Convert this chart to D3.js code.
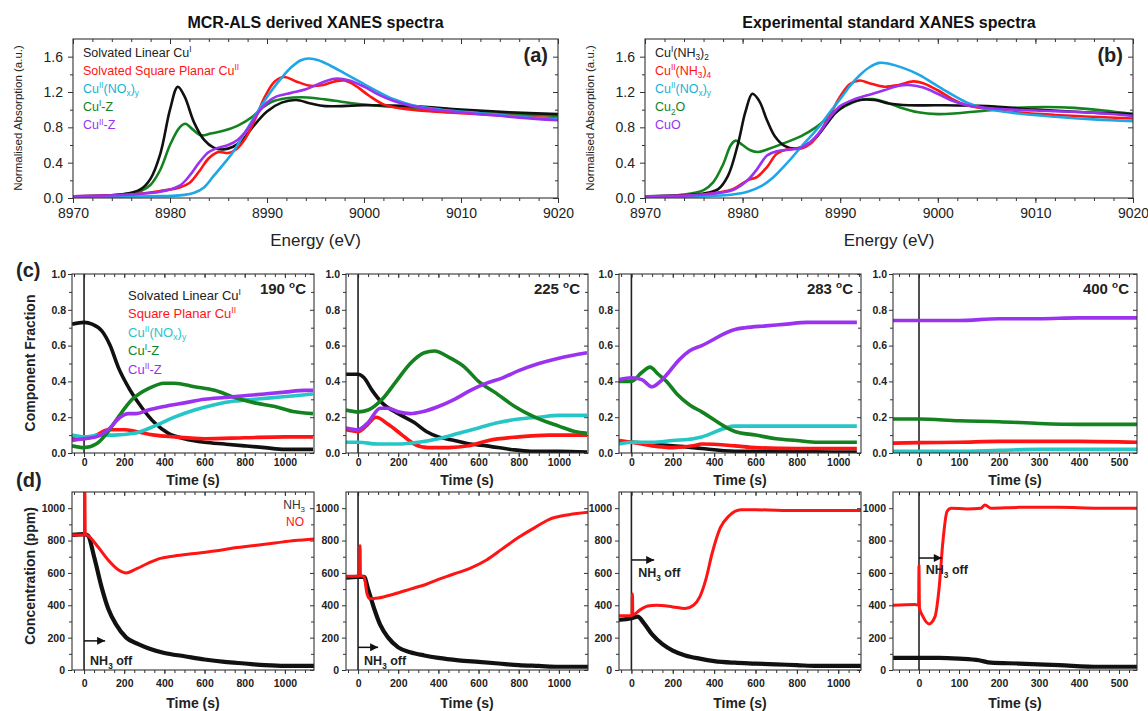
<!DOCTYPE html>
<html><head><meta charset="utf-8">
<script src="https://cdn.jsdelivr.net/npm/d3@7"></script>
<style>body{margin:0;background:#fff}svg{display:block}</style>
</head><body><svg id="chart" width="1148" height="711"></svg>
<script>
// ---------------- DATA ----------------
// (a) MCR-ALS derived XANES spectra  [energy eV, normalised absorption]
const mcrLinearCuI = [[8970,0.02],[8974,0.03],[8976,0.06],[8977,0.1],[8978,0.22],[8979,0.5],[8980,1.0],[8980.8,1.26],[8981.5,1.15],[8982.5,0.85],[8983.5,0.66],[8984.5,0.57],[8985.5,0.55],[8986.5,0.58],[8987.5,0.66],[8988.5,0.8],[8990,0.98],[8991.5,1.08],[8993,1.11],[8994.5,1.07],[8996,1.04],[9000,1.05],[9005,1.04],[9010,1.0],[9015,0.97],[9020,0.95]];
const mcrSquarePlanarCuII = [[8970,0.02],[8976,0.04],[8979,0.08],[8981,0.12],[8982,0.17],[8983,0.3],[8984,0.45],[8985,0.52],[8986,0.51],[8986.8,0.55],[8987.8,0.68],[8988.8,0.9],[8989.8,1.15],[8990.8,1.32],[8991.8,1.37],[8993,1.32],[8994.5,1.27],[8995.8,1.28],[8997,1.32],[8998,1.33],[8999,1.28],[9000.5,1.16],[9002,1.06],[9004,1.01],[9007,0.98],[9010,0.96],[9015,0.93],[9020,0.9]];
const mcrCuIINOx = [[8970,0.01],[8978,0.02],[8981,0.03],[8982.5,0.06],[8983.5,0.12],[8984.5,0.25],[8985.5,0.38],[8986.5,0.52],[8987.5,0.7],[8988.5,0.88],[8989.5,1.06],[8990.5,1.22],[8991.5,1.36],[8992.5,1.48],[8993.5,1.56],[8994.3,1.58],[8995.3,1.56],[8996.5,1.5],[8998,1.41],[8999.5,1.32],[9001,1.23],[9003,1.12],[9005,1.05],[9008,1.0],[9012,0.96],[9016,0.92],[9020,0.89]];
const mcrCuIZ = [[8970,0.02],[8975,0.04],[8977,0.08],[8978,0.15],[8979,0.32],[8980,0.6],[8981,0.8],[8981.6,0.84],[8982.3,0.78],[8983.2,0.71],[8984.2,0.73],[8985.5,0.76],[8987,0.82],[8988.5,0.92],[8989.5,1.02],[8990.5,1.09],[8992,1.13],[8993.5,1.14],[8995,1.13],[8997,1.1],[8999,1.07],[9002,1.04],[9005,1.02],[9010,0.97],[9015,0.95],[9020,0.93]];
const mcrCuIIZ = [[8970,0.02],[8976,0.04],[8979,0.07],[8981,0.14],[8982,0.25],[8983,0.4],[8984,0.52],[8985,0.57],[8986,0.6],[8987,0.66],[8988,0.78],[8989,0.95],[8990,1.08],[8991,1.15],[8992.5,1.19],[8994,1.23],[8995.5,1.3],[8997,1.35],[8998.5,1.33],[9000,1.26],[9001.5,1.17],[9003,1.1],[9005,1.04],[9008,0.99],[9012,0.95],[9016,0.91],[9020,0.88]];

// (b) Experimental standard XANES spectra
const stdCuINH3 = [[8970,0.02],[8974,0.03],[8976,0.05],[8977.5,0.1],[8978.5,0.25],[8979.5,0.6],[8980.3,0.98],[8981,1.18],[8981.7,1.1],[8982.5,0.88],[8983.3,0.7],[8984.3,0.59],[8985.5,0.56],[8986.5,0.6],[8987.5,0.68],[8988.5,0.82],[8989.5,0.96],[8990.5,1.05],[8992,1.11],[8993.5,1.11],[8995,1.07],[8997,1.05],[9000,1.05],[9005,1.04],[9010,1.0],[9015,0.97],[9020,0.95]];
const stdCuIINH3 = [[8970,0.02],[8976,0.04],[8979,0.1],[8980.5,0.2],[8981.5,0.24],[8982.5,0.35],[8983.5,0.5],[8984.5,0.55],[8986,0.56],[8987,0.62],[8988,0.76],[8989,0.95],[8990,1.15],[8991,1.29],[8992,1.33],[8993,1.3],[8994.5,1.26],[8996,1.28],[8997.5,1.32],[8998.5,1.3],[9000,1.22],[9001.5,1.12],[9003,1.05],[9005,1.01],[9008,0.97],[9012,0.94],[9016,0.92],[9020,0.9]];
const stdCuIINOx = [[8970,0.01],[8976,0.02],[8979,0.04],[8980.5,0.07],[8982,0.14],[8983,0.22],[8984,0.33],[8985,0.45],[8986,0.58],[8987,0.7],[8988,0.83],[8989,0.98],[8990,1.12],[8991,1.27],[8992,1.39],[8993,1.48],[8994,1.53],[8995,1.52],[8996.5,1.47],[8998,1.4],[8999.5,1.3],[9001,1.2],[9003,1.08],[9005,1.01],[9008,0.96],[9012,0.92],[9016,0.89],[9020,0.87]];
const stdCu2O = [[8970,0.02],[8974,0.04],[8976,0.09],[8977,0.18],[8978,0.38],[8978.8,0.6],[8979.3,0.65],[8980,0.6],[8980.8,0.54],[8981.6,0.52],[8982.5,0.55],[8984,0.61],[8986,0.7],[8987.5,0.8],[8989,0.93],[8990.5,1.04],[8992,1.11],[8993.3,1.12],[8994.5,1.09],[8996,1.03],[8998,0.97],[9000,0.95],[9002,0.96],[9005,0.99],[9008,1.02],[9011,1.03],[9014,1.02],[9017,0.99],[9020,0.95]];
const stdCuO = [[8970,0.02],[8976,0.04],[8979,0.09],[8980.5,0.2],[8981.5,0.33],[8982.5,0.48],[8983.5,0.53],[8985,0.55],[8986,0.57],[8987,0.64],[8988,0.76],[8989,0.92],[8990,1.04],[8991.5,1.12],[8993,1.17],[8994.5,1.22],[8996,1.27],[8997,1.28],[8998.5,1.25],[9000,1.18],[9001.5,1.1],[9003,1.05],[9006,1.01],[9010,0.99],[9015,0.97],[9020,0.93]];

// (c) component fractions [time s, fraction]
const c190Linear = [[-60,0.72],[0,0.73],[40,0.72],[90,0.68],[130,0.6],[170,0.48],[230,0.35],[290,0.25],[350,0.17],[420,0.11],[500,0.08],[600,0.06],[700,0.05],[800,0.04],[900,0.03],[1000,0.02],[1140,0.02]];
const c190Square = [[-60,0.08],[0,0.08],[60,0.1],[120,0.13],[200,0.13],[260,0.12],[350,0.1],[450,0.09],[600,0.08],[800,0.085],[1000,0.09],[1140,0.09]];
const c190NOx = [[-60,0.1],[0,0.09],[80,0.1],[150,0.1],[250,0.11],[350,0.15],[450,0.2],[550,0.24],[650,0.27],[750,0.29],[850,0.3],[950,0.31],[1050,0.32],[1140,0.33]];
const c190CuIZ = [[-60,0.04],[0,0.03],[60,0.05],[120,0.12],[170,0.2],[240,0.3],[320,0.36],[400,0.39],[450,0.39],[550,0.37],[650,0.35],[750,0.31],[850,0.28],[950,0.26],[1050,0.23],[1140,0.22]];
const c190CuIIZ = [[-60,0.07],[0,0.08],[60,0.09],[120,0.13],[180,0.2],[220,0.22],[260,0.22],[320,0.24],[400,0.26],[500,0.28],[600,0.3],[700,0.31],[800,0.32],[900,0.33],[1000,0.34],[1100,0.35],[1140,0.35]];

const c225Linear = [[-60,0.44],[0,0.44],[30,0.42],[70,0.35],[120,0.28],[200,0.22],[280,0.17],[340,0.12],[400,0.09],[480,0.07],[560,0.05],[640,0.04],[760,0.02],[860,0.01],[1000,0.01],[1140,0.005]];
const c225Square = [[-60,0.13],[0,0.12],[40,0.15],[90,0.2],[150,0.16],[220,0.1],[280,0.05],[350,0.03],[450,0.03],[550,0.04],[650,0.07],[800,0.09],[950,0.1],[1140,0.1]];
const c225NOx = [[-60,0.06],[0,0.06],[100,0.05],[200,0.05],[300,0.06],[400,0.08],[500,0.11],[600,0.14],[700,0.17],[800,0.19],[900,0.2],[1000,0.21],[1140,0.21]];
const c225CuIZ = [[-60,0.24],[0,0.23],[50,0.24],[120,0.3],[190,0.4],[260,0.5],[330,0.56],[380,0.57],[460,0.53],[530,0.48],[600,0.4],[680,0.34],[780,0.26],[880,0.2],[1000,0.15],[1080,0.12],[1140,0.11]];
const c225CuIIZ = [[-60,0.14],[0,0.13],[50,0.17],[110,0.25],[150,0.25],[200,0.23],[260,0.22],[320,0.23],[400,0.26],[480,0.3],[560,0.35],[640,0.39],[720,0.42],[800,0.46],[900,0.5],[1000,0.53],[1140,0.56]];

const c283Linear = [[-60,0.06],[0,0.06],[100,0.05],[200,0.04],[300,0.03],[340,0.025],[500,0.01],[700,0.01],[1000,0.005],[1090,0.005]];
const c283Square = [[-60,0.07],[0,0.06],[100,0.04],[200,0.03],[300,0.04],[340,0.05],[500,0.04],[600,0.03],[800,0.025],[1000,0.025],[1090,0.025]];
const c283NOx = [[-60,0.05],[0,0.06],[100,0.06],[200,0.07],[300,0.08],[340,0.09],[500,0.15],[600,0.15],[800,0.15],[1000,0.15],[1090,0.15]];
const c283CuIZ = [[-60,0.4],[0,0.4],[50,0.45],[90,0.48],[130,0.44],[170,0.4],[220,0.33],[280,0.27],[340,0.23],[500,0.12],[600,0.1],[700,0.08],[800,0.07],[900,0.06],[1000,0.06],[1090,0.06]];
const c283CuIIZ = [[-60,0.41],[0,0.42],[50,0.41],[100,0.37],[140,0.4],[180,0.45],[230,0.52],[280,0.57],[340,0.6],[500,0.69],[550,0.7],[650,0.71],[750,0.72],[850,0.73],[950,0.73],[1050,0.73],[1090,0.73]];

const c400Square = [[-65,0.055],[0,0.058],[100,0.06],[200,0.065],[300,0.065],[400,0.065],[545,0.06]];
const c400NOx = [[-65,0.01],[0,0.01],[100,0.01],[200,0.015],[300,0.02],[400,0.02],[545,0.02]];
const c400CuIZ = [[-65,0.19],[0,0.19],[100,0.18],[200,0.175],[300,0.165],[400,0.16],[545,0.16]];
const c400CuIIZ = [[-65,0.74],[0,0.74],[100,0.74],[200,0.75],[300,0.75],[400,0.755],[545,0.755]];

// (d) outlet gas concentrations [time s, ppm]
const d190NH3 = [[-60,835],[0,840],[20,830],[50,700],[90,500],[120,380],[160,280],[210,200],[270,160],[330,130],[400,105],[500,85],[600,65],[700,50],[800,40],[900,30],[1000,25],[1145,25]];
const d190NO = [[-60,835],[0,835],[2,840],[4,1100],[6,845],[30,820],[70,760],[120,680],[170,620],[210,600],[260,625],[320,660],[380,690],[450,705],[550,720],[650,735],[750,755],[850,770],[950,785],[1050,800],[1145,810]];
const d225NH3 = [[-60,570],[0,575],[30,575],[50,500],[80,380],[110,280],[150,200],[200,140],[260,110],[330,90],[400,75],[500,60],[600,50],[700,40],[800,30],[900,25],[1000,20],[1145,20]];
const d225NO = [[-60,580],[0,580],[8,585],[10,770],[12,585],[30,575],[45,470],[60,440],[100,445],[180,470],[260,500],[340,530],[400,560],[470,590],[560,630],[640,680],[720,750],[800,820],[880,880],[950,930],[1050,960],[1145,975]];
const d283NH3 = [[-60,310],[0,320],[30,330],[60,290],[100,220],[150,160],[200,120],[260,90],[330,70],[400,55],[500,45],[600,40],[700,35],[800,30],[900,25],[1000,25],[1110,25]];
const d283NO = [[-60,335],[0,335],[3,340],[5,470],[7,340],[40,370],[80,395],[120,400],[200,390],[260,380],[300,400],[330,450],[360,560],[390,720],[430,880],[470,950],[530,990],[600,990],[800,985],[1000,985],[1110,985]];
const d400NH3 = [[-65,75],[0,75],[50,75],[100,70],[150,60],[180,45],[250,40],[350,30],[450,20],[545,20]];
const d400NO = [[-65,400],[-10,405],[-1,400],[0,645],[1,385],[10,330],[25,285],[40,330],[50,500],[60,800],[70,980],[80,1000],[120,995],[155,1000],[165,1020],[180,1000],[250,1005],[350,1005],[450,1000],[545,1000]];

// NH3-off arrows: [start s, end s, level ppm], label [start s, level ppm]
const nh3OffArrows = [[0,105,180],[0,100,140],[0,110,680],[0,57,692]];
const nh3OffLabels = [[30,58],[30,58],[33,600],[17,620]];

// tick values
const energyTicks = [8970,8980,8990,9000,9010,9020];
const absorptionTicks = [0,0.4,0.8,1.2,1.6];
const fractionTicks = [0,0.2,0.4,0.6,0.8,1.0];
const concTicks = [0,200,400,600,800,1000];
const timeTicksLong = [0,200,400,600,800,1000];
const timeTicksShort = [0,100,200,300,400,500];
const temperatures = ["190","225","283","400"];

// ---------------- DRAWING ----------------
const FONT = "Arial, 'Liberation Sans', Helvetica, sans-serif";
const svg = d3.select("#chart").style("font-family", FONT);
const defs = svg.append("defs");
defs.append("marker").attr("id","arrowhead").attr("viewBox","0 0 10 10")
  .attr("refX",10).attr("refY",5).attr("markerUnits","userSpaceOnUse")
  .attr("markerWidth",11).attr("markerHeight",8).attr("orient","auto")
  .append("path").attr("d","M0,0L10,5L0,10Z").attr("fill","#111");

const COL = {
  black:"#111111", red:"#ff1414", blue:"#1ea6e6", green:"#13821f", purple:"#9a32f0", cyan:"#26c6c6",
  blueText:"#15b2d6"
};

function rich(sel, str, size) {
  const parts = str.split(/(\^\{[^}]*\}|_\{[^}]*\})/).filter(s => s.length);
  let shift = 0;
  parts.forEach(p => {
    let t = p, dy = 0, fs = size;
    if (p.startsWith("^{")) { t = p.slice(2,-1); dy = -0.38*size; fs = size*0.66; }
    else if (p.startsWith("_{")) { t = p.slice(2,-1); dy = 0.28*size; fs = size*0.66; }
    sel.append("tspan").attr("dy", (dy - shift).toFixed(2)).attr("font-size", fs).text(t);
    shift = dy;
  });
  return sel;
}

let clipId = 0;
function panel(cfg) {
  const x = d3.scaleLinear().domain(cfg.xd).range([cfg.l, cfg.r]);
  const y = d3.scaleLinear().domain(cfg.yd).range([cfg.b, cfg.t]);
  const g = svg.append("g");
  const id = "clip" + (clipId++);
  defs.append("clipPath").attr("id", id).append("rect")
    .attr("x", cfg.l).attr("y", cfg.t).attr("width", cfg.r - cfg.l).attr("height", cfg.b - cfg.t);

  const style = (a, labels) => {
    a.select(".domain").remove();
    a.selectAll(".tick line").attr("stroke", "#333").attr("stroke-width", 1);
    a.selectAll(".tick text").attr("fill", "#222").attr("font-size", cfg.tickFont)
      .attr("font-weight", cfg.tickBold ? "bold" : "normal").attr("font-family", FONT);
    if (!labels) a.selectAll(".tick text").remove();
  };
  const fmt = cfg.fmt;
  const xm = cfg.xMinor.filter(v => v > cfg.xd[0] && v < cfg.xd[1]);
  const ym = cfg.yMinor.filter(v => v > cfg.yd[0] && v < cfg.yd[1]);
  // bottom
  g.append("g").attr("transform", `translate(0,${cfg.b})`)
    .call(d3.axisBottom(x).tickValues(xm).tickSize(3).tickSizeOuter(0)).call(a => style(a, false));
  g.append("g").attr("transform", `translate(0,${cfg.b})`)
    .call(d3.axisBottom(x).tickValues(cfg.xt).tickSize(cfg.major).tickPadding(cfg.xPad).tickSizeOuter(0).tickFormat(d3.format("d")))
    .call(a => style(a, true));
  // top
  g.append("g").attr("transform", `translate(0,${cfg.t})`)
    .call(d3.axisTop(x).tickValues(xm).tickSize(-3).tickSizeOuter(0)).call(a => style(a, false));
  g.append("g").attr("transform", `translate(0,${cfg.t})`)
    .call(d3.axisTop(x).tickValues(cfg.xt).tickSize(-cfg.major).tickSizeOuter(0)).call(a => style(a, false));
  // left
  g.append("g").attr("transform", `translate(${cfg.l},0)`)
    .call(d3.axisLeft(y).tickValues(ym).tickSize(3).tickSizeOuter(0)).call(a => style(a, false));
  g.append("g").attr("transform", `translate(${cfg.l},0)`)
    .call(d3.axisLeft(y).tickValues(cfg.yt).tickSize(cfg.major).tickPadding(cfg.yPad).tickSizeOuter(0).tickFormat(fmt))
    .call(a => style(a, true));
  // right
  g.append("g").attr("transform", `translate(${cfg.r},0)`)
    .call(d3.axisRight(y).tickValues(ym).tickSize(-3).tickSizeOuter(0)).call(a => style(a, false));
  g.append("g").attr("transform", `translate(${cfg.r},0)`)
    .call(d3.axisRight(y).tickValues(cfg.yt).tickSize(-cfg.major).tickSizeOuter(0)).call(a => style(a, false));

  const plot = g.append("g").attr("clip-path", `url(#${id})`);
  if (cfg.zeroLine) {
    plot.append("line").attr("x1", x(0)).attr("x2", x(0)).attr("y1", cfg.t).attr("y2", cfg.b)
      .attr("stroke", "#222").attr("stroke-width", 1.6);
  }
  const line = d3.line().x(d => x(d[0])).y(d => y(d[1])).curve(cfg.curve);
  cfg.series.forEach(s => {
    plot.append("path").datum(s.data).attr("d", line).attr("fill", "none")
      .attr("stroke", s.color).attr("stroke-width", s.w).attr("stroke-linejoin", "round");
  });
  g.append("rect").attr("x", cfg.l).attr("y", cfg.t).attr("width", cfg.r - cfg.l).attr("height", cfg.b - cfg.t)
    .attr("fill", "none").attr("stroke", "#333").attr("stroke-width", 1.1);
  return {x, y, g};
}

// ---- (a) and (b)
const xanesPanels = [
  {l:73, r:558, title:"MCR-ALS derived XANES spectra", tag:"(a)",
   series:[
     {data:mcrCuIZ, color:COL.green}, {data:mcrLinearCuI, color:COL.black},
     {data:mcrSquarePlanarCuII, color:COL.red}, {data:mcrCuIINOx, color:COL.blue}, {data:mcrCuIIZ, color:COL.purple}],
   legend:[["Solvated Linear Cu^{I}","#222"],["Solvated Square Planar Cu^{II}",COL.red],["Cu^{II}(NO_{x})_{y}",COL.blueText],["Cu^{I}-Z",COL.green],["Cu^{II}-Z",COL.purple]]},
  {l:645, r:1133, title:"Experimental standard XANES spectra", tag:"(b)",
   series:[
     {data:stdCu2O, color:COL.green}, {data:stdCuINH3, color:COL.black},
     {data:stdCuIINH3, color:COL.red}, {data:stdCuIINOx, color:COL.blue}, {data:stdCuO, color:COL.purple}],
   legend:[["Cu^{I}(NH_{3})_{2}","#222"],["Cu^{II}(NH_{3})_{4}",COL.red],["Cu^{II}(NO_{x})_{y}",COL.blueText],["Cu_{2}O",COL.green],["CuO",COL.purple]]}
];
xanesPanels.forEach(p => {
  const cfg = {l:p.l, r:p.r, t:39, b:198, xd:[8970,9020], yd:[0,1.8],
    xt:energyTicks, xMinor:d3.range(8970, 9021, 2), yt:absorptionTicks, yMinor:d3.range(0.2, 1.8, 0.4),
    major:5, xPad:5, yPad:5, tickFont:14, tickBold:false, fmt:d3.format(".1f"),
    curve:d3.curveCatmullRom.alpha(0.5), zeroLine:false,
    series:p.series.map(s => ({data:s.data, color:s.color, w:2.6}))};
  panel(cfg);
  const cx = (p.l + p.r) / 2;
  svg.append("text").attr("x", cx).attr("y", 28).attr("text-anchor","middle")
    .attr("font-size",16).attr("font-weight","bold").attr("fill","#111").text(p.title);
  svg.append("text").attr("x", p.r - 10).attr("y", 62).attr("text-anchor","end")
    .attr("font-size",20).attr("font-weight","bold").attr("fill","#222").text(p.tag);
  svg.append("text").attr("x", cx).attr("y", 246).attr("text-anchor","middle")
    .attr("font-size",17).attr("fill","#222").text("Energy (eV)");
  svg.append("text").attr("transform", `translate(${p.l - 55},118) rotate(-90)`).attr("text-anchor","middle")
    .attr("dominant-baseline","central").attr("font-size",11.5).attr("fill","#222").text("Normalised Absorption (a.u.)");
  p.legend.forEach((it, i) => {
    const t = svg.append("text").attr("x", p.l + 10).attr("y", 56.5 + i*18.2)
      .attr("font-size",12.5).attr("fill", it[1]);
    rich(t, it[0], 12.5);
  });
});

// ---- (c) and (d)
const cols = [{l:72,r:314,xd:[-60,1145]},{l:346,r:588,xd:[-60,1145]},{l:619,r:861,xd:[-60,1110]},{l:893,r:1137,xd:[-65,545]}];
const cSeries = [
  [[c190Linear,COL.black],[c190Square,COL.red],[c190NOx,COL.cyan],[c190CuIZ,COL.green],[c190CuIIZ,COL.purple]],
  [[c225Linear,COL.black],[c225Square,COL.red],[c225NOx,COL.cyan],[c225CuIZ,COL.green],[c225CuIIZ,COL.purple]],
  [[c283Linear,COL.black],[c283Square,COL.red],[c283NOx,COL.cyan],[c283CuIZ,COL.green],[c283CuIIZ,COL.purple]],
  [[c400NOx,COL.cyan],[c400Square,COL.red],[c400CuIZ,COL.green],[c400CuIIZ,COL.purple]]
];
const dSeries = [
  [[d190NH3,COL.black,4.2],[d190NO,COL.red,3]],
  [[d225NH3,COL.black,4.2],[d225NO,COL.red,3]],
  [[d283NH3,COL.black,4.2],[d283NO,COL.red,3]],
  [[d400NH3,COL.black,4.2],[d400NO,COL.red,3]]
];
cols.forEach((c, i) => {
  const short = i === 3;
  const xt = short ? timeTicksShort : timeTicksLong;
  const xMinor = short ? d3.range(-50, 560, 25) : d3.range(-50, 1160, 50);
  const cp = panel({l:c.l, r:c.r, t:274, b:453, xd:c.xd, yd:[0,1.0], xt, xMinor,
    yt:fractionTicks, yMinor:d3.range(0.1, 1.0, 0.2), major:4, xPad:2, yPad:2, tickFont:10.5, tickBold:true,
    fmt:d3.format(".1f"), curve:d3.curveMonotoneX, zeroLine:true,
    series:cSeries[i].map(s => ({data:s[0], color:s[1], w:3.6}))});
  const dp = panel({l:c.l, r:c.r, t:492, b:670, xd:c.xd, yd:[0,1100], xt, xMinor,
    yt:concTicks, yMinor:d3.range(100, 1100, 200), major:4, xPad:6, yPad:3, tickFont:10.5, tickBold:true,
    fmt:d3.format("d"), curve:d3.curveMonotoneX, zeroLine:true,
    series:dSeries[i].map(s => ({data:s[0], color:s[1], w:s[2]}))});
  const cx = (c.l + c.r) / 2;
  svg.append("text").attr("x", cx).attr("y", 485).attr("text-anchor","middle")
    .attr("font-size",14).attr("font-weight","bold").attr("fill","#222").text("Time (s)");
  svg.append("text").attr("x", cx).attr("y", 708).attr("text-anchor","middle")
    .attr("font-size",14).attr("font-weight","bold").attr("fill","#222").text("Time (s)");
  const tt = svg.append("text").attr("x", c.r - 8).attr("y", 294).attr("text-anchor","end")
    .attr("font-size",15).attr("font-weight","bold").attr("fill","#222");
  rich(tt, temperatures[i] + " ^{o}C", 15);
  // NH3 off arrow
  const a = nh3OffArrows[i], lb = nh3OffLabels[i];
  svg.append("line").attr("x1", dp.x(a[0])).attr("x2", dp.x(a[1])).attr("y1", dp.y(a[2])).attr("y2", dp.y(a[2]))
    .attr("stroke","#111").attr("stroke-width",1.5).attr("marker-end","url(#arrowhead)");
  const nt = svg.append("text").attr("x", dp.x(lb[0])).attr("y", dp.y(lb[1]) + 4.5)
    .attr("font-size",12.5).attr("font-weight","bold").attr("fill","#222");
  rich(nt, "NH_{3} off", 12.5);
});

// legend (c)
const cLegend = [["Solvated Linear Cu^{I}","#222"],["Square Planar Cu^{II}",COL.red],["Cu^{II}(NO_{x})_{y}",COL.cyan],["Cu^{I}-Z",COL.green],["Cu^{II}-Z",COL.purple]];
cLegend.forEach((it, i) => {
  const t = svg.append("text").attr("x", 128).attr("y", 299.5 + i*18.5).attr("font-size",13).attr("fill", it[1]);
  rich(t, it[0], 13);
});
// legend (d)
rich(svg.append("text").attr("x", 305).attr("y", 509).attr("text-anchor","end").attr("font-size",12).attr("fill","#333"), "NH_{3}", 12);
svg.append("text").attr("x", 304).attr("y", 526).attr("text-anchor","end").attr("font-size",12).attr("fill",COL.red).text("NO");

// panel tags and y labels
svg.append("text").attr("x", 16).attr("y", 277).attr("font-size",20).attr("font-weight","bold").attr("fill","#222").text("(c)");
svg.append("text").attr("x", 16).attr("y", 487).attr("font-size",20).attr("font-weight","bold").attr("fill","#222").text("(d)");
svg.append("text").attr("transform","translate(30,363) rotate(-90)").attr("text-anchor","middle").attr("dominant-baseline","central")
  .attr("font-size",14).attr("font-weight","bold").attr("fill","#222").text("Component Fraction");
svg.append("text").attr("transform","translate(30,576) rotate(-90)").attr("text-anchor","middle").attr("dominant-baseline","central")
  .attr("font-size",14).attr("font-weight","bold").attr("fill","#222").text("Concentration (ppm)");
</script></body></html>
